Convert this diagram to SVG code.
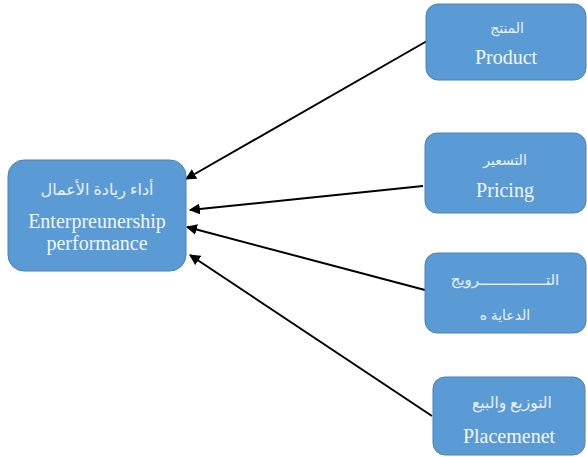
<svg xmlns="http://www.w3.org/2000/svg" width="587" height="457" viewBox="0 0 587 457">
<style>
.box{fill:#5b9bd5;stroke:#4a82b8;stroke-width:1}
.en{font-family:"Liberation Serif","Times New Roman",serif;font-size:20px;fill:#f2f6fb;text-anchor:middle}
.ar{font-family:"Liberation Serif","DejaVu Sans","Noto Sans",sans-serif;font-size:14px;fill:#eaf1f9;text-anchor:middle}
.conn{stroke:#000;stroke-width:2;fill:none;marker-end:url(#ah)}
</style>
<defs>
<marker id="ah" viewBox="0 0 10 10" refX="9" refY="5" markerWidth="5.5" markerHeight="5.5" orient="auto" markerUnits="strokeWidth">
<path d="M0,0 L10,5 L0,10 z" fill="#000"/>
</marker>
</defs>
<rect width="587" height="457" fill="#fff"/>
<g id="connectors">
<line class="conn" x1="427" y1="41" x2="186" y2="179"/>
<line class="conn" x1="423" y1="186" x2="190" y2="210"/>
<line class="conn" x1="425" y1="290" x2="187" y2="227"/>
<line class="conn" x1="432" y1="416" x2="190" y2="255"/>
</g>
<g id="performance">
<rect class="box" x="8" y="160" width="178" height="111" rx="16"/>
<text class="ar" x="97" y="195" style="font-size:16px">أداء ريادة الأعمال</text>
<text class="en" x="97" y="228">Enterpreunership</text>
<text class="en" x="97" y="250">performance</text>
</g>
<g id="product">
<rect class="box" x="426" y="4" width="160" height="76" rx="12"/>
<text class="ar" x="507" y="33">المنتج</text>
<text class="en" x="506" y="64">Product</text>
</g>
<g id="pricing">
<rect class="box" x="425" y="133" width="161" height="80" rx="12"/>
<text class="ar" x="505" y="165">التسعير</text>
<text class="en" x="505" y="197">Pricing</text>
</g>
<g id="promotion">
<rect class="box" x="425" y="253" width="161" height="80" rx="12"/>
<text class="ar" x="505" y="285" style="font-size:15px">التـــــــــــــــرويج</text>
<text class="ar" x="505" y="320" direction="rtl" unicode-bidi="embed" style="text-anchor:middle">الدعاية ه</text>
</g>
<g id="placement">
<rect class="box" x="433" y="377" width="152" height="78" rx="12"/>
<text class="ar" x="512" y="408" style="font-size:15.5px">التوزيع والبيع</text>
<text class="en" x="509" y="443">Placemenet</text>
</g>
</svg>
